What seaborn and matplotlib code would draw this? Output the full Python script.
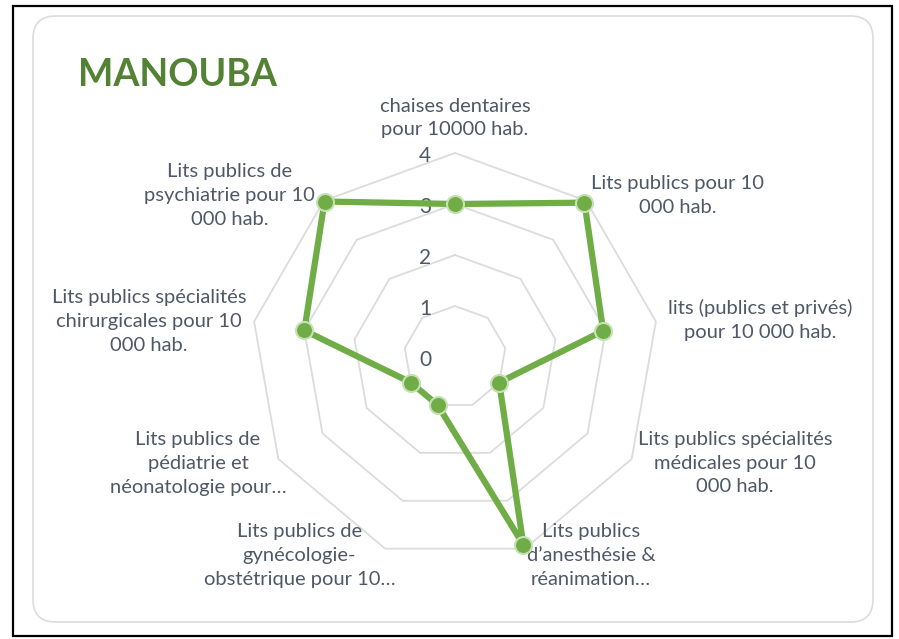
import numpy as np
import pandas as pd
import seaborn as sns
import matplotlib.pyplot as plt
from matplotlib.patches import FancyBboxPatch, Rectangle

# Chart data
categories = [
    "chaises dentaires\npour 10000 hab.",
    "Lits publics pour 10\n000 hab.",
    "lits (publics et privés)\npour 10 000 hab.",
    "Lits publics spécialités\nmédicales pour 10\n000 hab.",
    "Lits publics\nd\u2019anesthésie &\nréanimation\u2026",
    "Lits publics de\ngynécologie-\nobstétrique pour 10\u2026",
    "Lits publics de\npédiatrie et\nnéonatologie pour\u2026",
    "Lits publics spécialités\nchirurgicales pour 10\n000 hab.",
    "Lits publics de\npsychiatrie pour 10\n000 hab.",
]
values = [3.0, 3.95, 2.95, 1.0, 3.92, 1.0, 1.0, 3.0, 3.98]
ring_ticks = [0, 1, 2, 3, 4]
title = "MANOUBA"

sns.set_theme(style="white")
plt.rcParams["font.family"] = ["Lato", "DejaVu Sans"]

TEXT = "#4f5866"
GREEN = "#70ad47"
GRID = "#dcdcdc"

n = len(categories)
df = pd.DataFrame({"cat": categories, "val": values})
df["theta"] = np.arange(n) * 2 * np.pi / n

fig = plt.figure(figsize=(8.99, 6.39), dpi=100)
fig.patch.set_facecolor("white")

# frame + rounded chart area
fig.patches.append(Rectangle((13 / 899, 3 / 639), 879 / 899, 630 / 639,
                             transform=fig.transFigure, fill=False,
                             edgecolor="black", lw=1.6))
fig.patches.append(FancyBboxPatch((33 / 899, 17 / 639), 840 / 899, 606 / 639,
                                  boxstyle="round,pad=0,rounding_size=0.025",
                                  transform=fig.transFigure, fill=False,
                                  edgecolor=GRID, lw=1.2,
                                  mutation_aspect=899 / 639))

ax = fig.add_axes([251 / 899, 78 / 639, 408 / 899, 408 / 639], projection="polar")
ax.set_theta_zero_location("N")
ax.set_theta_direction(-1)
ax.set_ylim(0, ring_ticks[-1])
ax.grid(False)
ax.spines["polar"].set_visible(False)
ax.set_xticks([])
ax.set_yticks([])
ax.patch.set_alpha(0)

# polygon grid rings
closed_theta = np.append(df["theta"].values, df["theta"].values[0])
for v in ring_ticks[1:]:
    ax.plot(closed_theta, [v] * (n + 1), color=GRID, lw=1.3, zorder=1, clip_on=False)

# ring labels
for v in ring_ticks:
    ax.annotate(str(v), xy=(0, v), xytext=(-30, -3), textcoords="offset pixels",
                ha="center", va="center", fontsize=15, color=TEXT)

# data series
closed_vals = np.append(df["val"].values, df["val"].values[0])
ax.plot(closed_theta, closed_vals, color=GREEN, lw=4.5, zorder=3, clip_on=False,
        solid_joinstyle="round")
sns.scatterplot(x=df["theta"], y=df["val"], ax=ax, s=150, color=GREEN,
                edgecolor="#c5e0b4", linewidth=1.5, zorder=4, clip_on=False,
                legend=False)
ax.set_xlabel("")
ax.set_ylabel("")

# category labels around outer ring (offsets in pixels from the outer vertex)
offsets = [(0, 35, "center"), (5, 5, "left"), (12, 2, "left"), (6, -4, "left"),
           (2, -7, "left"), (10, -7, "right"), (8, -4, "right"), (-8, 0, "right"),
           (-9, 5, "right")]
for (cat, th), (dx, dy, ha) in zip(zip(df["cat"], df["theta"]), offsets):
    ax.annotate(cat, xy=(th, ring_ticks[-1]), xytext=(dx, dy),
                textcoords="offset pixels", ha=ha, va="center",
                multialignment="center", fontsize=14.5, color=TEXT,
                linespacing=1.5, annotation_clip=False)

fig.text(78 / 899, 1 - 75 / 639, title, fontsize=27, fontweight="bold",
         color="#548235", ha="left", va="center")

fig.savefig("out.png", dpi=100, facecolor="white")
